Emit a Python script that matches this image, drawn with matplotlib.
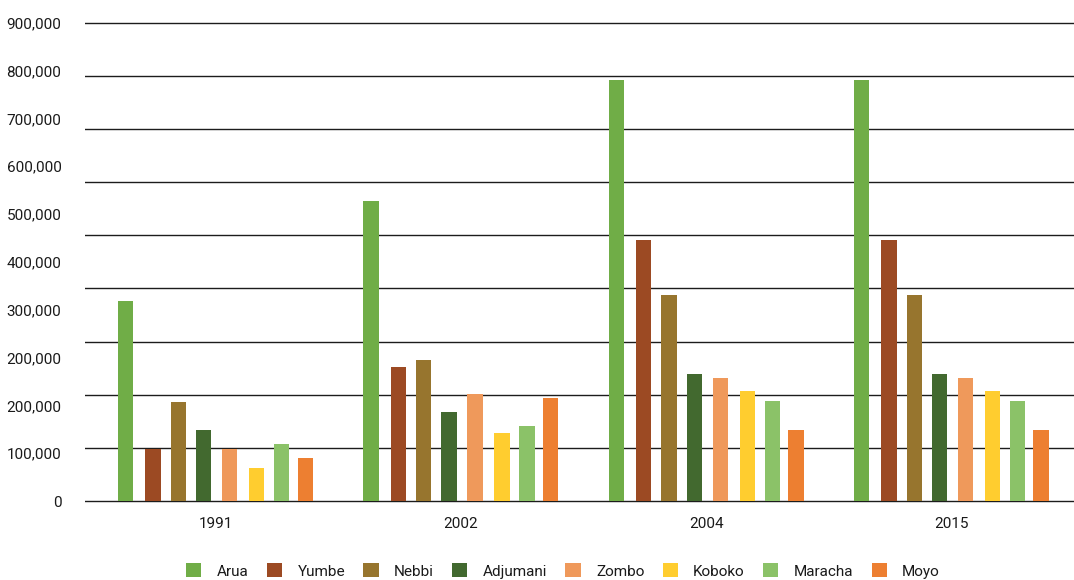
import numpy as np
import matplotlib
matplotlib.use('Agg')
import matplotlib.pyplot as plt

years = ['1991', '2002', '2004', '2015']
districts = ['Arua', 'Yumbe', 'Nebbi', 'Adjumani', 'Zombo', 'Koboko', 'Maracha', 'Moyo']

arua = [376000, 565000, 793000, 793000]
yumbe = [98000, 252000, 491000, 491000]
nebbi = [186000, 265000, 387000, 387000]
adjumani = [134000, 167000, 239000, 239000]
zombo = [98000, 201000, 231000, 231000]
koboko = [62000, 128000, 207000, 207000]
maracha = [107000, 141000, 189000, 189000]
moyo = [81000, 193000, 134000, 134000]

ytick_labels = ['0', '100,000', '200,000', '200,000', '300,000', '400,000',
                '500,000', '600,000', '700,000', '800,000', '900,000']

colores = ['#70AD47', '#9C4A23', '#97752E', '#42692F', '#EF995B',
           '#FFCD2F', '#8BC268', '#ED7F31']

# posicion de cada barra dentro del grupo
offsets = [-0.366, -0.254, -0.151, -0.048, 0.058, 0.168, 0.270, 0.366]
ancho = 0.063

plt.rcParams['font.family'] = ['Roboto', 'DejaVu Sans']
texto = '#1a1a1a'

fig = plt.figure(figsize=(10.74, 5.80), dpi=100)
ax = fig.add_axes([85/1074, 0.1334, 1 - 85/1074, 0.9655 - 0.1334])

series = [arua, yumbe, nebbi, adjumani, zombo, koboko, maracha, moyo]
x = np.arange(len(years))
for i in range(len(series)):
    ax.bar(x + offsets[i], series[i], width=ancho, color=colores[i],
           label=districts[i], zorder=3)

ax.set_xlim(-0.532, 3.5)
ax.set_ylim(-3000, 905000)

# lineas horizontales cada 100,000
for v in range(0, 900001, 100000):
    ax.axhline(v, color='#1c1c1c', linewidth=1.0, zorder=1)

ax.set_yticks(np.linspace(0, 900000, len(ytick_labels)))
ax.set_yticklabels(ytick_labels)
ax.set_xticks(x)
ax.set_xticklabels(years)
ax.tick_params(axis='y', length=0, pad=17, labelsize=11, labelcolor=texto)
ax.tick_params(axis='x', length=0, pad=10, labelsize=11, labelcolor=texto)

for s in ax.spines.values():
    s.set_visible(False)

fig.legend(loc='center', bbox_to_anchor=(563/1074, 1 - 571/580), ncol=8,
           frameon=False, fontsize=11, labelcolor=texto,
           handlelength=1.0, handleheight=1.0, handletextpad=1.0,
           columnspacing=1.2, borderaxespad=0)

plt.savefig('out.png', dpi=100)
plt.close()
